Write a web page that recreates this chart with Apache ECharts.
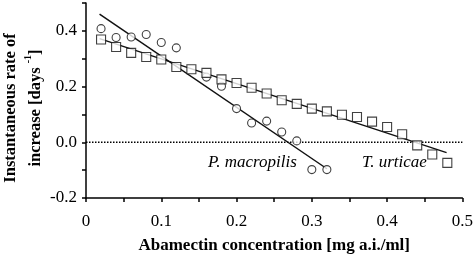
<!DOCTYPE html>
<html>
<head>
<meta charset="utf-8">
<script src="https://cdn.jsdelivr.net/npm/echarts@6/dist/echarts.min.js"></script>
<style>
  html, body { margin: 0; padding: 0; background: #fff; }
  #chart { width: 476px; height: 261px; }
</style>
</head>
<body>
<div id="chart"></div>
<script>
// T. urticae (squares)
const urticaeX = [0.02, 0.04, 0.06, 0.08, 0.10, 0.12, 0.14, 0.16, 0.18, 0.20, 0.22, 0.24,
                  0.26, 0.28, 0.30, 0.32, 0.34, 0.36, 0.38, 0.40, 0.42, 0.44, 0.46, 0.48];
const urticaeY = [0.369, 0.342, 0.321, 0.306, 0.297, 0.270, 0.262, 0.249, 0.226, 0.213, 0.196, 0.175,
                  0.151, 0.138, 0.121, 0.111, 0.099, 0.091, 0.074, 0.055, 0.029, -0.011, -0.044, -0.074];
// P. macropilis (circles)
const macropilisX = [0.02, 0.04, 0.06, 0.08, 0.10, 0.12, 0.16, 0.18, 0.20, 0.22, 0.24, 0.26, 0.28, 0.30, 0.32];
const macropilisY = [0.408, 0.376, 0.378, 0.387, 0.358, 0.339, 0.234, 0.201, 0.121, 0.069, 0.076, 0.037, 0.005, -0.098, -0.098];
// fitted regression lines (end points)
const fitUrticaeX = [0.018, 0.479];
const fitUrticaeY = [0.372, -0.037];
const fitMacropilisX = [0.018, 0.32];
const fitMacropilisY = [0.46, -0.095];
const zeroLineX = [0, 0.5];
const zeroLineY = [0, 0];

const pair = (xs, ys) => xs.map((x, i) => [x, ys[i]]);
const serif = '"Liberation Serif", "DejaVu Serif", serif';

const chart = echarts.init(document.getElementById('chart'));

const option = {
    backgroundColor: '#fff',
    animation: false,
    grid: { left: 86, right: 10, top: 3, bottom: 63 },
    xAxis: {
        type: 'value',
        min: 0,
        max: 0.5,
        interval: 0.05,
        name: 'Abamectin concentration [mg a.i./ml]',
        nameLocation: 'middle',
        nameGap: 39,
        nameTextStyle: { fontFamily: serif, fontSize: 17, fontWeight: 'bold', color: '#000' },
        axisLine: { onZero: false, lineStyle: { color: '#000', width: 1.5 } },
        axisTick: { inside: false, length: 4, lineStyle: { color: '#000', width: 1.5 } },
        axisLabel: {
            fontFamily: serif, fontSize: 17, color: '#000', margin: 15,
            showMaxLabel: true,
            formatter: v => {
                if (Math.round(v * 100) % 10 !== 0) return '';
                return v === 0 ? '0' : v.toFixed(1);
            }
        },
        splitLine: { show: false }
    },
    yAxis: {
        type: 'value',
        min: -0.2,
        max: 0.5,
        interval: 0.1,
        axisLine: { onZero: false, lineStyle: { color: '#000', width: 1.5 } },
        axisTick: { inside: false, length: 4, lineStyle: { color: '#000', width: 1.5 } },
        axisLabel: {
            fontFamily: serif, fontSize: 17, color: '#000', margin: 9,
            formatter: v => (Math.round(v * 10) % 2 === 0 ? v.toFixed(1) : '')
        },
        splitLine: { show: false }
    },
    series: [
        {
            name: 'zero',
            type: 'line',
            data: pair(zeroLineX, zeroLineY),
            symbol: 'none',
            lineStyle: { color: '#000', width: 1.5, type: [1.5, 1.5] },
            z: 1
        },
        {
            name: 'fit P. macropilis',
            type: 'line',
            data: pair(fitMacropilisX, fitMacropilisY),
            symbol: 'none',
            lineStyle: { color: '#111', width: 1.5 },
            z: 2
        },
        {
            name: 'fit T. urticae',
            type: 'line',
            data: pair(fitUrticaeX, fitUrticaeY),
            symbol: 'none',
            lineStyle: { color: '#111', width: 1.5 },
            z: 2
        },
        {
            name: 'P. macropilis',
            type: 'scatter',
            data: pair(macropilisX, macropilisY),
            symbol: 'circle',
            symbolSize: 8,
            itemStyle: { color: '#fff', borderColor: '#111', borderWidth: 1.1 },
            z: 3
        },
        {
            name: 'T. urticae',
            type: 'scatter',
            data: pair(urticaeX, urticaeY),
            symbol: 'rect',
            symbolSize: 9,
            itemStyle: { color: '#fff', borderColor: '#111', borderWidth: 1.1 },
            z: 3
        }
    ],
    graphic: [
        {
            // y axis title, two rotated lines
            type: 'text',
            x: 23,
            y: 108,
            rotation: Math.PI / 2,
            style: {
                text: '{a|Instantaneous rate of}\n{a|increase [days }{s|-1}{a|]}',
                align: 'center',
                verticalAlign: 'middle',
                rich: {
                    a: { fontFamily: serif, fontSize: 16.5, fontWeight: 'bold', fill: '#000', lineHeight: 25 },
                    s: { fontFamily: serif, fontSize: 10, fontWeight: 'bold', fill: '#000', verticalAlign: 'top', lineHeight: 25 }
                }
            }
        },
        {
            type: 'text',
            left: 208,
            top: 154,
            style: { text: 'P. macropilis', fontFamily: serif, fontSize: 17, fontStyle: 'italic', fill: '#000' }
        },
        {
            type: 'text',
            left: 362,
            top: 154,
            style: { text: 'T. urticae', fontFamily: serif, fontSize: 17, fontStyle: 'italic', fill: '#000' }
        }
    ]
};

chart.setOption(option);
</script>
</body>
</html>
